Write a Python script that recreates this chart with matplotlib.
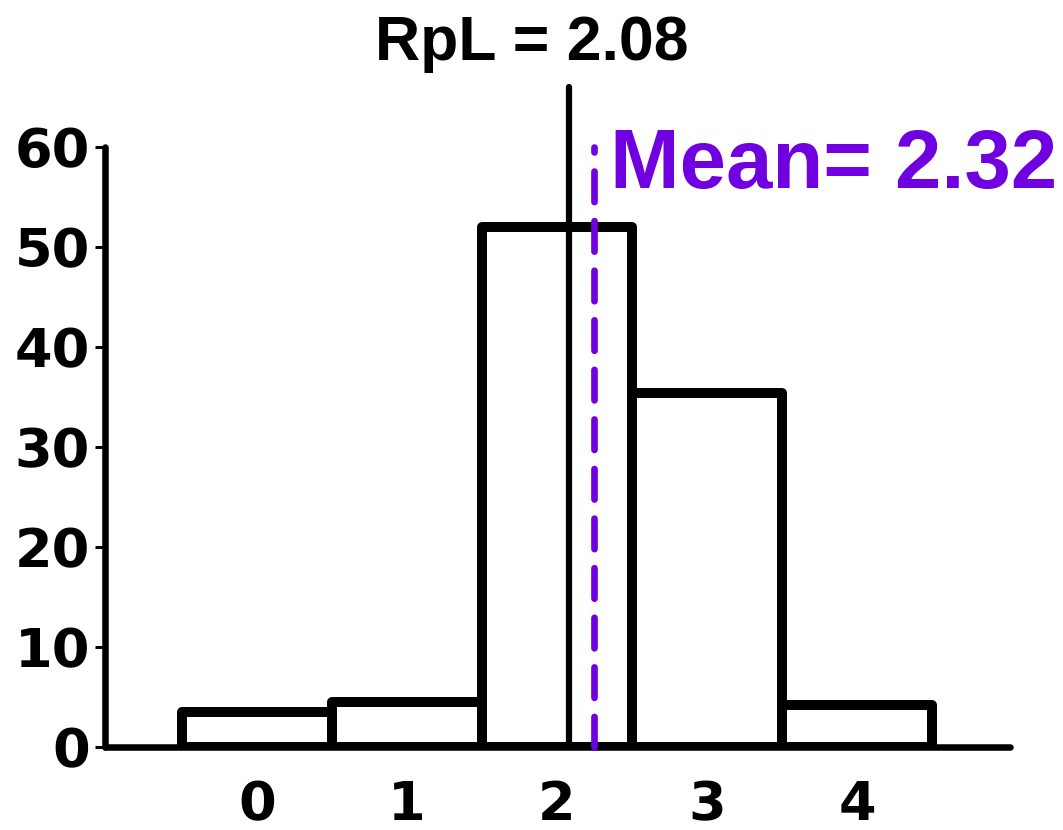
import matplotlib
matplotlib.use("Agg")
import matplotlib.pyplot as plt

# data
categories = [0, 1, 2, 3, 4]
percent = [3.5, 4.5, 52.0, 35.4, 4.2]
rpl_value = 2.08
mean_value = 2.32
mean_line_pos = 2.25   # where the dashed line sits in the picture
y_ticks = [0, 10, 20, 30, 40, 50, 60]

purple = "#7000DF"
plt.rcParams["lines.scale_dashes"] = False

fig = plt.figure(figsize=(10.63, 8.30), dpi=100)
ax = fig.add_axes([105 / 1063, 83 / 830, 905 / 1063, 600 / 830])

# histogram bars, open boxes
ax.bar(categories, percent, width=1.0, fill=False, edgecolor="black",
       linewidth=7.2, joinstyle="round", zorder=2)

# RpL marker (solid) and mean marker (dashed)
ax.plot([rpl_value, rpl_value], [0, 66], color="black", lw=4.5,
        solid_capstyle="round", clip_on=False, zorder=3)
ax.plot([mean_line_pos, mean_line_pos], [0, 60], color=purple, lw=4.8,
        dashes=(22, 13.7), dash_capstyle="round", clip_on=False, zorder=4)

ax.set_xlim(-1.013, 5.02)
ax.set_ylim(0, 60)
ax.set_yticks(y_ticks)
ax.set_xticks(categories)

for s in ["top", "right"]:
    ax.spines[s].set_visible(False)
for s in ["left", "bottom"]:
    ax.spines[s].set_linewidth(4.7)
    ax.spines[s].set_capstyle("round")

ax.tick_params(axis="y", length=7.2, width=2.2, pad=3.5, labelsize=39)
ax.tick_params(axis="x", length=0, pad=23, labelsize=39)
for lab in ax.get_xticklabels() + ax.get_yticklabels():
    lab.set_fontweight("bold")
    lab.set_family("DejaVu Sans")

fig.text(0.5, 1 - 60 / 830, f"RpL = {rpl_value:.2f}", ha="center",
         va="baseline", fontsize=45, fontweight="bold",
         family="Liberation Sans")
fig.text(610 / 1063, 1 - 188 / 830, f"Mean= {mean_value:.2f}", ha="left",
         va="baseline", fontsize=60, fontweight="bold", color=purple,
         family="Liberation Sans")

fig.savefig("out.png", dpi=100)
